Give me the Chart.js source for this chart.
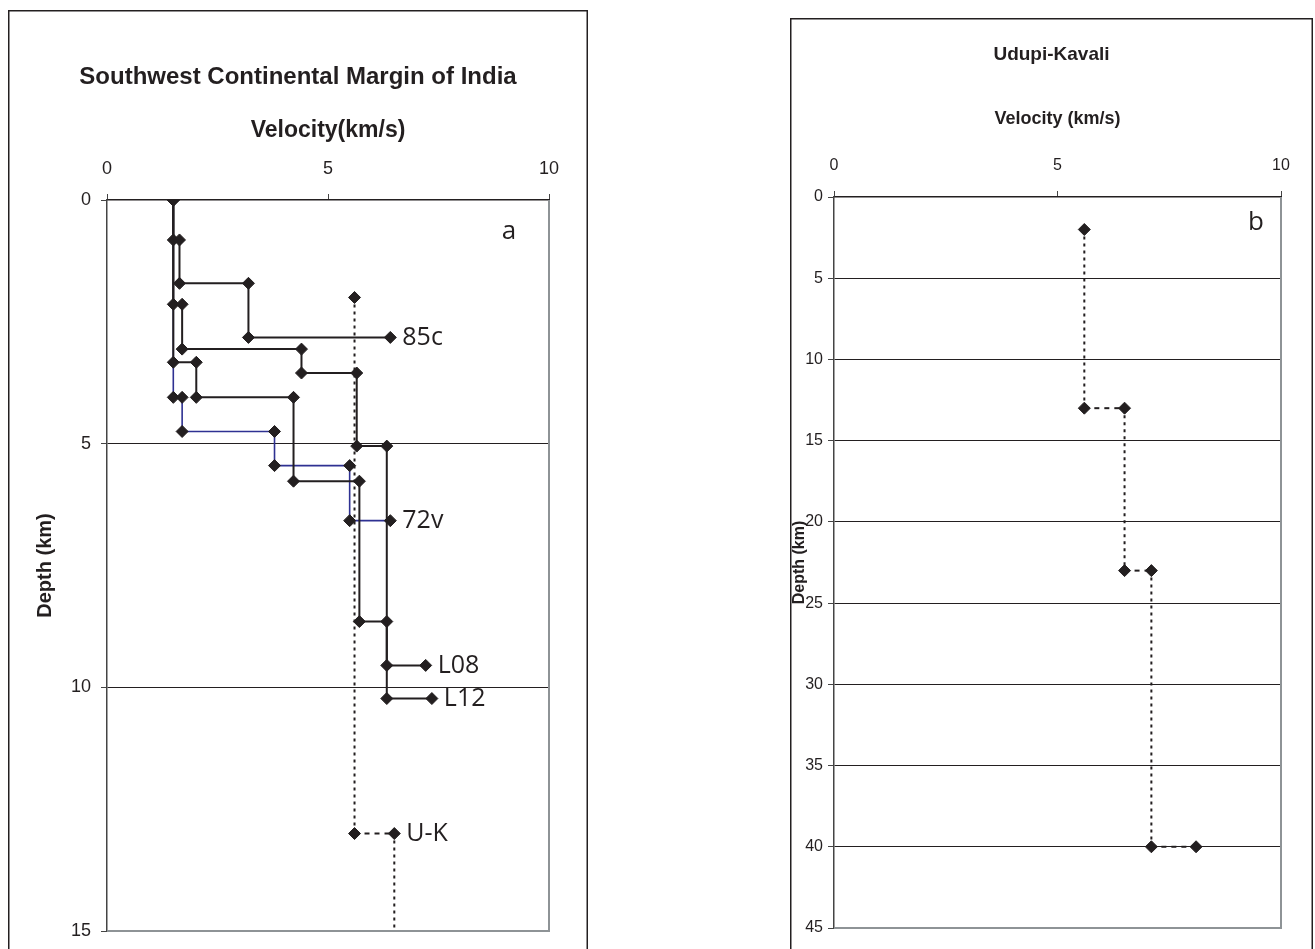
<!DOCTYPE html>
<html>
<head>
<meta charset="utf-8">
<title>Velocity-depth profiles</title>
<script src="https://cdn.jsdelivr.net/npm/chart.js@4.4.1/dist/chart.umd.min.js"></script>
<style>
  html, body { margin: 0; padding: 0; background: #fff; overflow: hidden; }
  .panel { position: absolute; }
  #boxA { left: 8px; top: 10px; width: 580px; height: 960px; }
  #boxB { left: 790px; top: 18px; width: 523px; height: 960px; }
</style>
</head>
<body>
<div class="panel" id="boxA"><canvas id="chartA"></canvas></div>
<div class="panel" id="boxB"><canvas id="chartB"></canvas></div>
<script>
// step profiles: velocity (km/s) against depth (km)
const vel85c = [1.5, 1.5, 1.64, 1.64, 3.2, 3.2, 6.41];
const dep85c = [0, 0.82, 0.82, 1.71, 1.71, 2.82, 2.82];

const velL08 = [1.5, 1.5, 1.7, 1.7, 4.4, 4.4, 5.65, 5.65, 6.33, 6.33, 7.21];
const depL08 = [0, 2.14, 2.14, 3.06, 3.06, 3.55, 3.55, 5.05, 5.05, 9.55, 9.55];

const velL12 = [1.5, 1.5, 2.02, 2.02, 4.22, 4.22, 5.71, 5.71, 6.33, 6.33, 7.35];
const depL12 = [0, 3.33, 3.33, 4.05, 4.05, 5.77, 5.77, 8.65, 8.65, 10.23, 10.23];

const vel72v = [1.5, 1.5, 1.7, 1.7, 3.79, 3.79, 5.49, 5.49, 6.41];
const dep72v = [0, 4.05, 4.05, 4.75, 4.75, 5.45, 5.45, 6.58, 6.58];

// Udupi-Kavali (U-K), shown in both panels
const velUK = [5.6, 5.6, 6.5, 6.5, 7.1, 7.1, 8.1];
const depUK = [2, 13, 13, 23, 23, 40, 40];

const velTicks = [0, 5, 10];
const depMaxA = 15;
const depMaxB = 45;

const INK = '#231f20';
Chart.defaults.font.family = '"Liberation Sans", Arial, sans-serif';
Chart.defaults.color = INK;

const pts = (v, d) => v.map((x, i) => ({ x, y: d[i] }));

function profile(v, d, extra) {
  return Object.assign({
    data: pts(v, d),
    showLine: true,
    borderColor: INK,
    borderWidth: 2,
    backgroundColor: INK,
    pointStyle: 'rectRot',
    pointRadius: 6,
    pointBorderWidth: 1,
    pointBorderColor: INK,
    tension: 0,
    order: 1,
  }, extra);
}

function ukProfile(tagAt) {
  return profile(velUK, depUK, {
    borderDash: [3, 4],
    segment: { borderDash: c => c.p0.parsed.y === c.p1.parsed.y ? [5, 5] : [3, 4] },
    tag: tagAt == null ? null : 'U-K',
    tagAt,
  });
}

// outer chart frame + grey plot-area edge (right and bottom)
const frame = {
  id: 'frame',
  beforeDraw(chart) {
    const { ctx, width, height } = chart;
    ctx.save();
    ctx.strokeStyle = INK;
    ctx.lineWidth = 1.5;
    ctx.strokeRect(0.75, 0.75, width - 1.5, height - 1.5);
    ctx.restore();
  },
  beforeDatasetsDraw(chart) {
    const { ctx, chartArea: a } = chart;
    ctx.save();
    ctx.strokeStyle = '#8e9396';
    ctx.lineWidth = 2;
    ctx.beginPath();
    ctx.moveTo(a.right, a.top);
    ctx.lineTo(a.right, a.bottom);
    ctx.lineTo(a.left, a.bottom);
    ctx.stroke();
    ctx.restore();
  },
};

// profile names beside a chosen point, plus the panel letter
const tags = {
  id: 'tags',
  afterDatasetsDraw(chart, args, opts) {
    const { ctx, chartArea: a } = chart;
    ctx.save();
    ctx.fillStyle = INK;
    ctx.textBaseline = 'middle';
    ctx.font = '25px "Open Sans", sans-serif';
    chart.data.datasets.forEach((ds, i) => {
      if (!ds.tag) return;
      const el = chart.getDatasetMeta(i).data[ds.tagAt];
      ctx.fillText(ds.tag, el.x + 12, el.y);
    });
    ctx.textAlign = 'center';
    ctx.font = '26px "Open Sans", sans-serif';
    ctx.fillText(opts.letter, a.right + opts.dx, a.top + opts.dy);
    ctx.restore();
  },
};

function axes(o) {
  return {
    x: {
      type: 'linear', position: 'top', min: 0, max: 10,
      afterBuildTicks: s => { s.ticks = velTicks.map(value => ({ value })); },
      afterFit: s => { s.height = o.xHeight; },
      ticks: { font: { size: o.tickSize }, padding: o.xTickPad },
      grid: { drawOnChartArea: false, tickLength: 6, tickColor: '#444' },
      border: { color: INK, width: 1.5 },
      title: { display: true, text: o.xTitle, font: { size: o.xTitleSize, weight: 'bold' }, padding: { top: o.xTitlePad, bottom: 0 } },
    },
    y: {
      type: 'linear', reverse: true, min: 0, max: o.depMax,
      ticks: { stepSize: 5, font: { size: o.tickSize }, padding: o.yTickPad },
      afterFit: s => { s.width = o.yWidth; },
      grid: {
        color: c => (c.tick.value === 0 || c.tick.value === o.depMax) ? 'rgba(0,0,0,0)' : INK,
        lineWidth: 1, tickLength: 6, tickColor: '#444',
      },
      border: { color: '#444', width: 1.5 },
      title: { display: true, text: 'Depth (km)', font: { size: o.yTitleSize, weight: 'bold' }, padding: { top: o.yTitlePad, bottom: 0 } },
    },
    // empty strip on the right so the chart title stays centred on the whole frame
    yR: {
      axis: 'y', position: 'right',
      afterFit: s => { s.width = o.rightGap; },
      ticks: { display: false }, grid: { display: false }, border: { display: false },
    },
  };
}

new Chart(document.getElementById('chartA'), {
  type: 'scatter',
  data: {
    datasets: [
      profile(vel72v, dep72v, { borderColor: '#2e3192', borderWidth: 1.6, order: 2, tag: '72v', tagAt: 8 }),
      profile(vel85c, dep85c, { tag: '85c', tagAt: 6 }),
      profile(velL08, depL08, { tag: 'L08', tagAt: 10 }),
      profile(velL12, depL12, { tag: 'L12', tagAt: 10 }),
      ukProfile(2),
    ],
  },
  options: {
    responsive: true,
    maintainAspectRatio: false,
    animation: false,
    layout: { padding: { bottom: 39 } },
    plugins: {
      legend: { display: false },
      tooltip: { enabled: false },
      title: { display: true, text: 'Southwest Continental Margin of India', font: { size: 24, weight: 'bold' }, padding: { top: 52.6, bottom: 0 } },
      tags: { letter: 'a', dx: -40, dy: 32 },
    },
    scales: axes({
      depMax: depMaxA, xHeight: 108.6, yWidth: 99, rightGap: 39, tickSize: 18, xTickPad: 14, yTickPad: 10,
      xTitle: 'Velocity(km/s)', xTitleSize: 23, xTitlePad: 25.8,
      yTitleSize: 20, yTitlePad: 25,
    }),
  },
  plugins: [frame, tags],
});

new Chart(document.getElementById('chartB'), {
  type: 'scatter',
  data: { datasets: [ukProfile(null)] },
  options: {
    responsive: true,
    maintainAspectRatio: false,
    animation: false,
    layout: { padding: { bottom: 50 } },
    plugins: {
      legend: { display: false },
      tooltip: { enabled: false },
      title: { display: true, text: 'Udupi-Kavali', font: { size: 19, weight: 'bold' }, padding: { top: 25, bottom: 0 } },
      tags: { letter: 'b', dx: -25, dy: 26 },
    },
    scales: axes({
      depMax: depMaxB, xHeight: 131.2, yWidth: 44, rightGap: 32, tickSize: 16, xTickPad: 16, yTickPad: 5,
      xTitle: 'Velocity (km/s)', xTitleSize: 18, xTitlePad: 42,
      yTitleSize: 16, yTitlePad: 0,
    }),
  },
  plugins: [frame, tags],
});
</script>
</body>
</html>
